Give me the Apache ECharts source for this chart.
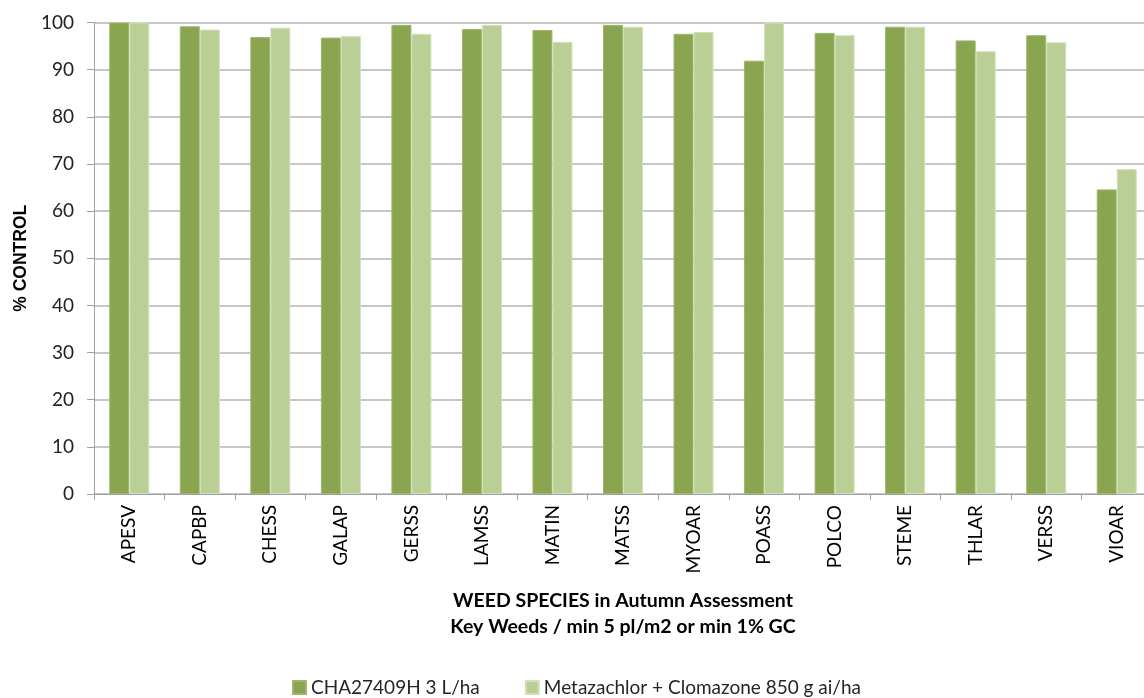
<!DOCTYPE html>
<html><head><meta charset="utf-8">
<script src="https://cdn.jsdelivr.net/npm/echarts@6/dist/echarts.min.js"></script>
<style>html,body{margin:0;padding:0;background:#fff}#c{width:1144px;height:698px}</style>
</head><body><div id="c"></div>
<script>
const categories = ['APESV','CAPBP','CHESS','GALAP','GERSS','LAMSS','MATIN','MATSS','MYOAR','POASS','POLCO','STEME','THLAR','VERSS','VIOAR'];
const seriesNames = ['CHA27409H 3 L/ha','Metazachlor + Clomazone 850 g ai/ha'];
const chaValues = [100, 99.2, 96.9, 96.8, 99.5, 98.6, 98.4, 99.5, 97.6, 91.9, 97.8, 99.1, 96.2, 97.3, 64.6];
const metaValues = [100, 98.5, 98.9, 97.1, 97.6, 99.5, 95.9, 99.1, 98.0, 100, 97.3, 99.1, 93.9, 95.8, 68.9];
const yTicks = [0,10,20,30,40,50,60,70,80,90,100];

const FONT = 'Lato, "Open Sans", sans-serif';
const chart = echarts.init(document.getElementById('c'));
chart.setOption({
  animation:false,
  grid:{left:94, top:22.5, width:1058, height:471.5, containLabel:false, outerBoundsMode:'none'},
  legend:{
    left:287, top:673, itemWidth:13, itemHeight:13, itemGap:45,
    icon:'rect',
    textStyle:{fontFamily:FONT, fontSize:19, color:'#262626'},
    data:seriesNames
  },
  xAxis:{
    type:'category', data:categories,
    name:'WEED SPECIES in Autumn Assessment\nKey Weeds / min 5 pl/m2 or min 1% GC',
    nameLocation:'middle', nameGap:94,
    nameTextStyle:{fontFamily:FONT, fontSize:19.5, fontWeight:'bold', color:'#000', lineHeight:26},
    axisLine:{lineStyle:{color:'#a0a0a0', width:1}},
    axisTick:{show:true, alignWithLabel:false, length:6, lineStyle:{color:'#a0a0a0'}},
    axisLabel:{rotate:90, fontFamily:FONT, fontSize:19, color:'#000', margin:11, interval:0}
  },
  yAxis:{
    type:'value', min:0, max:100, interval:10,
    name:'% CONTROL', nameLocation:'middle', nameGap:64,
    nameTextStyle:{fontFamily:'"Liberation Sans", Arial, sans-serif', fontSize:17.5, fontWeight:'bold', color:'#000'},
    axisLine:{show:true, lineStyle:{color:'#a0a0a0'}},
    axisTick:{show:true, length:7, lineStyle:{color:'#a0a0a0'}},
    splitLine:{lineStyle:{color:'#b4b4b4', width:1.5}},
    axisLabel:{fontFamily:FONT, fontSize:19, color:'#222', margin:20,
      formatter:function(v){return yTicks.indexOf(v)>=0? String(v):'';}}
  },
  series:[
    {name:seriesNames[0], type:'bar', data:chaValues, barWidth:20, barGap:'0%', barCategoryGap:'43%',
     itemStyle:{color:'#8aa54f', borderColor:'#9fb76c', borderWidth:1}},
    {name:seriesNames[1], type:'bar', data:metaValues, barWidth:20,
     itemStyle:{color:'#b9cf95', borderColor:'#d3e1ba', borderWidth:1}}
  ]
});
</script></body></html>
